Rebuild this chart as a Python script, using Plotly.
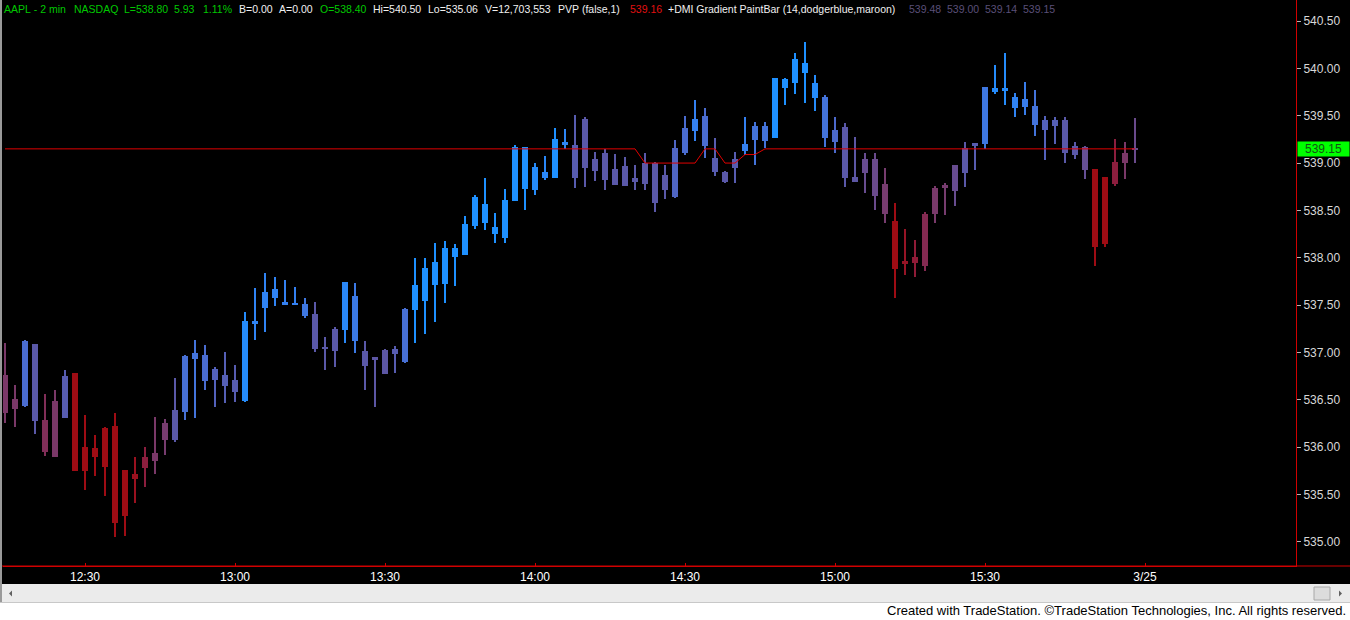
import plotly.graph_objects as go

# ---------------- data (2-min AAPL bars) ----------------
start_time = "12:14"
highs = [537.10,536.66,537.13,537.09,536.56,536.60,536.81,536.78,536.34,536.13,
         536.21,536.36,535.76,535.90,536.00,536.32,536.30,536.73,536.97,537.13,
         537.08,536.85,537.00,536.87,537.43,537.68,537.84,537.80,537.76,537.69,
         537.58,537.53,537.16,537.27,537.74,537.73,537.12,536.95,537.04,537.07,
         537.47,538.00,538.00,538.16,538.18,538.15,538.44,538.66,538.84,538.47,
         538.73,539.19,539.17,539.00,539.07,539.37,539.36,539.51,539.49,539.12,
         539.15,539.10,539.06,538.98,539.11,539.01,538.98,539.24,539.50,539.67,
         539.58,539.26,538.92,539.12,539.49,539.43,539.43,539.90,539.90,540.16,
         540.28,539.93,539.72,539.49,539.42,539.28,539.11,539.11,538.95,538.58,
         538.30,538.19,538.48,538.76,538.79,538.98,539.22,539.21,539.80,540.04,
         540.16,539.74,539.86,539.77,539.50,539.49,539.49,539.22,539.18,538.94,
         538.85,539.25,539.22,539.48]
lows = [536.26,536.21,536.42,536.14,535.91,535.90,536.31,535.75,535.55,535.70,
        535.48,535.05,535.06,535.41,535.58,535.72,535.92,536.05,536.29,536.31,
        536.60,536.42,536.47,536.48,536.48,537.13,537.22,537.49,537.50,537.50,
        537.36,537.00,536.81,536.85,537.10,536.99,536.60,536.42,536.77,536.78,
        536.89,537.10,537.20,537.32,537.52,537.70,538.03,538.30,538.29,538.16,
        538.16,538.60,538.50,538.66,538.82,538.84,539.15,538.74,538.75,538.81,
        538.72,538.77,538.76,538.72,538.72,538.48,538.62,538.63,539.09,539.23,
        539.05,538.86,538.79,538.79,539.09,538.98,539.16,539.26,539.61,539.73,
        539.63,539.55,539.17,539.11,538.75,538.80,538.68,538.50,538.37,537.58,
        537.82,537.80,537.86,538.37,538.45,538.55,538.75,538.93,539.15,539.73,
        539.61,539.49,539.51,539.29,539.03,539.20,539.00,539.04,538.83,537.91,
        538.11,538.76,538.83,539.00]
opens = [536.76,536.51,536.43,537.09,536.29,536.49,536.31,536.78,536.00,535.99,
         536.20,536.22,535.76,535.72,535.90,535.94,536.26,536.08,536.37,536.93,
         536.70,536.71,536.65,536.58,536.49,537.31,537.47,537.58,537.51,537.51,
         537.39,537.41,537.06,537.25,537.24,537.12,537.02,536.95,537.03,536.98,
         536.90,537.45,537.54,537.71,537.72,538.01,538.03,538.34,538.37,538.25,
         538.21,538.60,538.73,538.72,538.84,538.84,539.20,539.19,539.47,539.04,
         539.11,538.94,538.97,538.84,539.00,539.00,538.87,539.16,539.11,539.34,
         539.18,539.05,538.91,539.04,539.13,539.24,539.23,539.26,539.79,539.85,
         539.95,539.85,539.70,539.35,539.38,538.85,539.04,539.04,538.78,538.39,
         537.97,538.01,537.91,538.46,538.77,538.70,538.90,539.18,539.20,539.75,
         539.76,539.70,539.59,539.60,539.45,539.45,539.45,539.18,539.17,538.94,
         538.85,538.78,539.00,539.14]
closes = [536.36,536.40,537.12,536.28,535.95,535.90,536.75,535.75,535.75,535.90,
          535.79,535.20,535.27,535.66,535.78,535.85,536.08,536.39,536.96,536.99,
          536.97,536.83,536.76,536.71,537.33,537.33,537.64,537.67,537.53,537.52,
          537.51,537.04,537.04,537.02,537.74,537.60,536.86,536.93,536.77,537.04,
          537.46,537.71,537.89,537.96,538.10,538.10,538.36,538.64,538.57,538.32,
          538.61,539.17,539.17,538.96,538.91,539.25,539.22,538.84,538.95,538.92,
          538.82,538.77,538.76,538.80,538.78,538.58,538.72,538.64,539.37,539.47,
          539.50,538.91,538.80,538.95,539.20,539.39,539.39,539.90,539.89,540.10,
          540.06,539.69,539.26,539.22,538.84,538.80,538.90,538.65,538.46,537.88,
          537.93,537.94,538.46,538.74,538.74,538.98,539.16,539.21,539.80,539.79,
          539.79,539.58,539.68,539.40,539.35,539.39,539.11,539.09,538.93,538.11,
          538.15,539.01,539.11,539.15]
# DMI gradient position per bar: 0 = dodgerblue side, 1 = maroon side
dmi_gradient = [0.75,0.75,0.30,0.45,0.80,0.75,0.42,1.00,1.00,1.00,
                1.00,1.00,1.00,0.97,0.88,0.75,0.72,0.45,0.28,0.25,
                0.30,0.38,0.40,0.42,0.05,0.12,0.12,0.12,0.15,0.15,
                0.22,0.45,0.45,0.45,0.08,0.20,0.45,0.47,0.47,0.42,
                0.28,0.00,0.00,0.00,0.00,0.00,0.00,0.00,0.00,0.00,
                0.00,0.00,0.00,0.05,0.08,0.00,0.10,0.42,0.45,0.45,
                0.45,0.45,0.45,0.45,0.45,0.45,0.45,0.35,0.30,0.15,
                0.30,0.42,0.45,0.42,0.15,0.25,0.25,0.00,0.00,0.00,
                0.00,0.05,0.25,0.32,0.45,0.47,0.58,0.60,0.72,1.00,
                0.95,0.90,0.82,0.74,0.72,0.58,0.45,0.42,0.22,0.05,
                0.05,0.12,0.18,0.25,0.38,0.40,0.45,0.45,0.55,1.00,
                1.00,0.88,0.75,0.60]
pvp = [539.15]*64 + [539.00]*6 + [539.15]*2 + [539.00]*2 + [539.09]*2 + [539.15]*38
tick_labels = ["12:30", "13:00", "13:30", "14:00", "14:30", "15:00", "15:30", "3/25"]
price_ticks = [535.0, 535.5, 536.0, 536.5, 537.0, 537.5, 538.0, 538.5, 539.0, 539.5, 540.0, 540.5]
last_price = 539.15

header_texts = ["AAPL - 2 min", "NASDAQ", "L=538.80", "5.93", "1.11%", "B=0.00", "A=0.00",
                "O=538.40", "Hi=540.50", "Lo=535.06", "V=12,703,553", "PVP (false,1)", "539.16",
                "+DMI Gradient PaintBar (14,dodgerblue,maroon)", "539.48", "539.00", "539.14", "539.15"]
header_colors = ["#00C800", "#00C800", "#00C800", "#00C800", "#00C800", "#F0F0F0", "#F0F0F0",
                 "#00C800", "#F0F0F0", "#F0F0F0", "#F0F0F0", "#F0F0F0", "#E01010",
                 "#F0F0F0", "#5A4F78", "#5A4F78", "#5A4F78", "#5A4F78"]
header_left = [3, 73, 123, 173, 202, 238, 278, 319, 372, 427, 484, 557, 629, 667, 908, 946, 984, 1022]
footer = "Created with TradeStation. \u00a9TradeStation Technologies, Inc. All rights reserved."

# ---------------- helpers ----------------
anchors = [(0.0, (30, 144, 255)), (0.15, (52, 128, 240)), (0.3, (74, 108, 208)),
           (0.45, (90, 88, 168)), (0.6, (106, 74, 140)), (0.75, (122, 56, 104)),
           (0.88, (140, 30, 62)), (1.0, (158, 12, 20))]


def grad_color(t):
    for (t0, c0), (t1, c1) in zip(anchors[:-1], anchors[1:]):
        if t <= t1:
            f = (t - t0) / (t1 - t0) if t1 > t0 else 0
            c = [round(a + (b - a) * f) for a, b in zip(c0, c1)]
            return "rgb(%d,%d,%d)" % tuple(c)
    return "rgb(%d,%d,%d)" % anchors[-1][1]


n = len(closes)
xs = list(range(n))
colors = [grad_color(t) for t in dmi_gradient]
body_base = [min(o, c) for o, c in zip(opens, closes)]
body_h = [max(abs(c - o), 0.012) for o, c in zip(opens, closes)]
wick_h = [h - l for h, l in zip(highs, lows)]

h0, m0 = map(int, start_time.split(":"))
t0 = h0 * 60 + m0
tick_vals = []
for lab in tick_labels:
    if ":" in lab:
        hh, mm = map(int, lab.split(":"))
        tick_vals.append((hh * 60 + mm - t0) / 2)
    else:
        tick_vals.append(n)  # first bar of next session

fig = go.Figure()
fig.add_trace(go.Bar(x=xs, y=wick_h, base=lows, width=0.1,
                     marker=dict(color=colors, line=dict(width=0)), hoverinfo="skip"))
fig.add_trace(go.Bar(x=xs, y=body_h, base=body_base, width=0.68,
                     marker=dict(color=colors, line=dict(width=0)),
                     customdata=list(zip(opens, highs, lows, closes)),
                     hovertemplate="O %{customdata[0]}<br>H %{customdata[1]}<br>L %{customdata[2]}<br>C %{customdata[3]}<extra></extra>"))
fig.add_trace(go.Scatter(x=xs, y=pvp, mode="lines", line=dict(color="#E00000", width=1),
                         hoverinfo="skip"))

W, H = 1350, 620
ML, MR, MT, MB = 3, 54, 0, 54
PW, PH = W - ML - MR, H - MT - MB


def px_x(x):
    return (x - ML) / PW


def px_y(y):
    return (H - MB - y) / PH


shapes = [
    dict(type="rect", xref="paper", yref="paper", x0=px_x(0), x1=px_x(W), y0=px_y(602), y1=px_y(584),
         fillcolor="#EBEBEB", line=dict(width=0), layer="below"),
    dict(type="rect", xref="paper", yref="paper", x0=px_x(0), x1=px_x(W), y0=px_y(H), y1=px_y(602),
         fillcolor="#FFFFFF", line=dict(width=0), layer="below"),
    dict(type="line", xref="paper", yref="paper", x0=px_x(0), x1=px_x(W), y0=px_y(602.5), y1=px_y(602.5),
         line=dict(color="#C8C8C8", width=1)),
    dict(type="rect", xref="paper", yref="paper", x0=px_x(1314), x1=px_x(1330), y0=px_y(600), y1=px_y(587),
         fillcolor="#DCDCDC", line=dict(color="#A8A8A8", width=1)),
    dict(type="path", xref="paper", yref="paper",
         path="M %f,%f L %f,%f L %f,%f Z" % (px_x(9), px_y(593.5), px_x(12), px_y(590.5), px_x(12), px_y(596.5)),
         fillcolor="#606060", line=dict(width=0)),
    dict(type="path", xref="paper", yref="paper",
         path="M %f,%f L %f,%f L %f,%f Z" % (px_x(1342), px_y(593.5), px_x(1339), px_y(590.5), px_x(1339), px_y(596.5)),
         fillcolor="#606060", line=dict(width=0)),
    dict(type="line", xref="paper", yref="paper", x0=px_x(0), x1=px_x(W), y0=0, y1=0,
         line=dict(color="#D00000", width=1)),
    dict(type="line", xref="paper", yref="paper", x0=px_x(1), x1=px_x(1), y0=px_y(0), y1=px_y(602),
         line=dict(color="#9A9A9A", width=2)),
]

annotations = []
for txt, col, left in zip(header_texts, header_colors, header_left):
    annotations.append(dict(xref="paper", yref="paper", x=px_x(left), y=px_y(9),
                            xanchor="left", yanchor="middle", text=txt.replace(" ", "\u00a0"),
                            showarrow=False, borderpad=0,
                            font=dict(family="Arial", size=10.5, color=col)))
annotations += [
    dict(xref="paper", yref="paper", x=px_x(1348), y=px_y(611), xanchor="right", yanchor="middle",
         text=footer, showarrow=False,
         font=dict(family="Liberation Sans Narrow, Arial Narrow, Arial", size=13, color="#000000")),
    dict(xref="paper", yref="y", x=px_x(1297), y=last_price, xanchor="left", yanchor="middle",
         text="%.2f" % last_price, showarrow=False, bgcolor="#00FF00", width=49, height=12,
         align="center", borderpad=1, font=dict(family="Arial", size=12, color="#145214")),
]

fig.update_layout(
    width=W, height=H, margin=dict(l=ML, r=MR, t=MT, b=MB, pad=0),
    paper_bgcolor="#000000", plot_bgcolor="#000000",
    barmode="overlay", bargap=0, showlegend=False,
    shapes=shapes, annotations=annotations,
    xaxis=dict(range=[-0.2, 129.1], tickvals=tick_vals, ticktext=tick_labels,
               ticks="inside", ticklen=3, tickcolor="#D00000",
               showline=True, linecolor="#D00000", linewidth=1,
               showgrid=False, zeroline=False, fixedrange=True,
               tickfont=dict(family="Liberation Sans Narrow, Arial Narrow, Arial", size=12, color="#FFFFFF")),
    yaxis=dict(side="right", range=[534.745, 540.722], tickvals=price_ticks,
               ticktext=["%.2f" % v for v in price_ticks],
               ticks="outside", ticklen=4, tickcolor="#B4B4B4",
               showline=True, linecolor="#D00000", linewidth=1,
               showgrid=False, zeroline=False, fixedrange=True,
               tickfont=dict(family="Arial", size=12, color="#D8D8D8")),
)

fig.write_html("out.html", config={"displayModeBar": False},
               post_script="document.body.style.margin='0';document.body.style.background='#ffffff';")
